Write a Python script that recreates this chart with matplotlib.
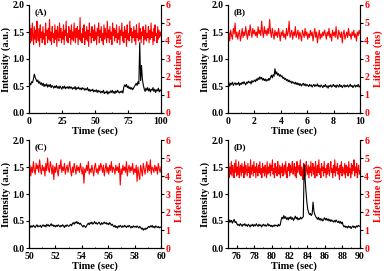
import numpy as np
import matplotlib
matplotlib.use("Agg")
import matplotlib.pyplot as plt
from matplotlib.ticker import AutoMinorLocator

plt.rcParams['font.family'] = 'Liberation Serif'
plt.rcParams['font.weight'] = 'bold'

# ---- panel A : 0-100 s ----
int_a = [0.50, 0.55, 0.52, 0.58, 0.56, 0.63, 0.72, 0.66, 0.62, 0.58, 0.61, 0.55, 0.58, 0.53, 0.56,
         0.51, 0.55, 0.49, 0.53, 0.50, 0.54, 0.48, 0.52, 0.49, 0.53, 0.47, 0.51, 0.49, 0.46, 0.50,
         0.47, 0.51, 0.46, 0.49, 0.45, 0.50, 0.47, 0.44, 0.49, 0.46, 0.50, 0.45, 0.48, 0.46, 0.49,
         0.45, 0.49, 0.46, 0.48, 0.44, 0.47, 0.45, 0.49, 0.43, 0.47, 0.45, 0.48, 0.44, 0.46, 0.43,
         0.47, 0.44, 0.46, 0.42, 0.45, 0.43, 0.47, 0.41, 0.44, 0.40, 0.43, 0.41, 0.44, 0.39, 0.42,
         0.40, 0.43, 0.38, 0.42, 0.39, 0.41, 0.37, 0.40, 0.38, 0.42, 0.36, 0.39, 0.37, 0.41, 0.35,
         0.39, 0.37, 0.41, 0.38, 0.42, 0.37, 0.40, 0.36, 0.41, 0.38, 0.42, 0.39, 0.37, 0.40, 0.38,
         0.41, 0.37, 0.48, 0.52, 0.49, 0.53, 0.47, 0.50, 0.45, 0.48, 0.44, 0.47, 0.43, 0.46, 0.49,
         0.52, 0.55, 0.51, 0.58, 0.54, 1.30, 0.60, 0.88, 0.62, 0.52, 0.45, 0.40, 0.46, 0.42, 0.47,
         0.41, 0.45, 0.39, 0.44, 0.42, 0.47, 0.40, 0.44, 0.38, 0.43, 0.41, 0.46, 0.39, 0.43, 0.41]
life_a = [4.3, 4.9, 3.9, 4.7, 4.0, 5.0, 4.2, 3.8, 4.8, 4.1, 4.6, 3.9, 5.1, 4.3, 4.0, 4.7, 3.7, 4.9, 4.2, 4.5,
          3.9, 4.8, 4.1, 4.4, 3.8, 5.0, 4.3, 4.6, 3.9, 4.7, 4.1, 5.2, 4.0, 4.5, 3.8, 4.8, 4.2, 4.4, 3.9, 4.9,
          4.1, 4.6, 3.7, 4.8, 4.3, 4.0, 5.0, 4.2, 4.7, 3.9, 4.5, 4.1, 4.9, 3.8, 4.6, 4.3, 5.1, 4.0, 4.4, 3.9,
          4.8, 4.2, 4.6, 3.8, 4.9, 4.1, 4.5, 4.0, 5.0, 4.3, 3.9, 4.7, 4.2, 4.8, 3.8, 4.6, 4.1, 5.3, 4.0, 4.4,
          3.9, 4.7, 4.2, 4.9, 3.8, 4.5, 4.1, 4.8, 4.0, 4.6, 3.7, 5.0, 4.3, 4.4, 3.9, 4.8, 4.2, 4.6, 4.0, 4.9,
          4.1, 4.5, 3.8, 4.7, 4.3, 5.0, 3.9, 4.6, 4.2, 4.8, 4.0, 4.4, 3.8, 4.9, 4.1, 4.7, 4.3, 3.9, 5.1, 4.2,
          4.6, 3.9, 4.8, 4.1, 4.5, 3.8, 5.0, 4.3, 4.7, 4.0, 4.6, 4.2, 4.9, 3.9, 4.4, 4.1, 4.8, 3.8, 4.6, 4.3,
          5.0, 4.0, 4.5, 3.9, 4.8, 4.2, 4.6, 3.7, 4.9, 4.1, 4.4, 4.0, 5.1, 4.3, 4.7, 3.9, 4.5, 4.2, 4.8, 4.0,
          4.6, 3.8, 4.9, 4.2, 4.4, 4.0, 5.0, 4.1, 4.7, 3.9, 4.5, 4.3, 4.8, 3.8, 4.6, 4.1, 4.9, 4.0, 4.4, 4.2,
          4.8, 3.9, 4.6, 4.1, 5.0, 4.2, 4.5, 3.8, 4.7, 4.0, 4.9, 4.3, 4.4, 3.9, 4.8, 4.1, 4.6, 4.2, 4.5, 4.3]

# ---- panel B : 0-10 s ----
int_b = [0.52, 0.56, 0.50, 0.55, 0.53, 0.57, 0.51, 0.54, 0.56, 0.52, 0.55, 0.53, 0.57, 0.51, 0.55,
         0.53, 0.57, 0.54, 0.58, 0.55, 0.52, 0.57, 0.55, 0.59, 0.56, 0.58, 0.54, 0.60, 0.57, 0.59,
         0.61, 0.58, 0.63, 0.60, 0.65, 0.62, 0.67, 0.63, 0.66, 0.61, 0.64, 0.60, 0.63, 0.59, 0.62,
         0.60, 0.64, 0.61, 0.66, 0.70, 0.65, 0.71, 0.68, 0.82, 0.72, 0.76, 0.70, 0.73, 0.68, 0.71,
         0.67, 0.69, 0.64, 0.66, 0.62, 0.64, 0.60, 0.62, 0.58, 0.61, 0.57, 0.59, 0.55, 0.58, 0.56,
         0.54, 0.57, 0.53, 0.56, 0.52, 0.55, 0.51, 0.54, 0.50, 0.53, 0.55, 0.51, 0.54, 0.50, 0.53,
         0.51, 0.49, 0.53, 0.50, 0.52, 0.48, 0.51, 0.53, 0.49, 0.52, 0.50, 0.54, 0.49, 0.51, 0.48,
         0.52, 0.50, 0.47, 0.51, 0.49, 0.53, 0.48, 0.50, 0.46, 0.51, 0.49, 0.52, 0.48, 0.50, 0.53,
         0.49, 0.51, 0.47, 0.52, 0.50, 0.48, 0.53, 0.49, 0.51, 0.47, 0.50, 0.52, 0.48, 0.51, 0.49,
         0.52, 0.48, 0.50, 0.53, 0.49, 0.51, 0.47, 0.50, 0.52, 0.48, 0.51, 0.49, 0.53, 0.48, 0.50]
life_b = [4.2, 4.5, 4.0, 4.6, 4.3, 4.1, 4.7, 4.4, 5.0, 4.2, 4.5, 4.1, 4.4, 4.6, 4.0, 4.3, 4.7, 4.2, 4.5, 4.3,
          4.8, 4.4, 4.1, 4.6, 4.3, 4.9, 4.5, 4.2, 4.7, 4.4, 4.6, 4.3, 4.5, 4.2, 4.8, 4.4, 4.6, 4.3, 5.1, 4.5,
          4.2, 4.8, 4.4, 4.6, 4.3, 4.7, 4.4, 5.2, 4.5, 4.2, 4.7, 4.4, 4.1, 4.6, 4.3, 4.5, 4.2, 4.7, 4.4, 4.0,
          4.5, 4.3, 4.6, 4.2, 4.4, 4.1, 4.7, 4.3, 4.5, 5.1, 4.2, 4.4, 4.6, 4.1, 4.5, 4.3, 4.8, 4.2, 4.4, 4.6,
          4.1, 4.5, 4.3, 4.0, 4.6, 4.4, 4.2, 4.7, 4.3, 4.5, 4.1, 4.4, 4.2, 4.6, 4.3, 4.5, 4.0, 4.4, 4.7, 4.2,
          4.5, 3.9, 4.3, 4.6, 4.1, 4.4, 4.2, 4.5, 4.3, 4.6, 4.4, 4.1, 4.5, 4.3, 4.7, 4.2, 4.4, 4.0, 4.6, 4.3,
          4.5, 4.2, 4.8, 4.3, 4.1, 4.6, 4.4, 4.2, 4.5, 3.9, 4.4, 4.6, 4.1, 4.3, 4.5, 4.2, 4.7, 4.3, 4.4, 4.1,
          4.5, 4.3, 4.6, 4.2, 4.4, 4.0, 4.5, 4.3, 4.6, 4.4]

# ---- panel C : 50-60 s ----
int_c = [0.40, 0.42, 0.38, 0.41, 0.39, 0.42, 0.40, 0.38, 0.41, 0.43, 0.39, 0.41, 0.40, 0.42, 0.38,
         0.41, 0.43, 0.40, 0.42, 0.39, 0.44, 0.41, 0.43, 0.40, 0.42, 0.45, 0.41, 0.43, 0.40, 0.42,
         0.39, 0.42, 0.40, 0.43, 0.41, 0.39, 0.42, 0.40, 0.43, 0.41, 0.38, 0.42, 0.40, 0.43, 0.41,
         0.40, 0.42, 0.44, 0.41, 0.45, 0.47, 0.44, 0.48, 0.46, 0.49, 0.45, 0.47, 0.44, 0.46, 0.43,
         0.41, 0.39, 0.42, 0.40, 0.38, 0.41, 0.44, 0.46, 0.43, 0.47, 0.45, 0.48, 0.44, 0.46, 0.49,
         0.45, 0.47, 0.44, 0.46, 0.48, 0.45, 0.43, 0.47, 0.44, 0.46, 0.48, 0.45, 0.47, 0.44, 0.46,
         0.43, 0.47, 0.45, 0.42, 0.44, 0.41, 0.39, 0.42, 0.38, 0.40, 0.37, 0.41, 0.39, 0.42, 0.40,
         0.38, 0.41, 0.39, 0.42, 0.40, 0.38, 0.41, 0.39, 0.42, 0.40, 0.37, 0.40, 0.38, 0.41, 0.39,
         0.40, 0.38, 0.41, 0.39, 0.37, 0.40, 0.38, 0.35, 0.37, 0.33, 0.36, 0.34, 0.37, 0.35, 0.38,
         0.40, 0.38, 0.41, 0.39, 0.42, 0.38, 0.40, 0.37, 0.41, 0.39, 0.38, 0.40, 0.37, 0.39, 0.38]
life_c = [4.3, 4.6, 4.0, 4.5, 4.2, 4.8, 4.3, 4.1, 4.7, 4.4, 4.6, 4.2, 4.9, 4.4, 4.1, 4.6, 4.3, 4.5, 4.0, 4.7,
          4.3, 5.0, 4.4, 4.2, 4.8, 4.5, 4.1, 4.6, 3.8, 4.5, 4.2, 4.7, 4.3, 4.0, 4.6, 4.4, 4.9, 4.2, 4.5, 4.3,
          4.7, 4.1, 4.4, 4.6, 4.2, 4.5, 4.8, 4.3, 4.0, 4.5, 4.2, 4.7, 4.4, 4.1, 4.6, 4.3, 4.5, 4.2, 4.7, 4.4,
          4.1, 4.5, 3.6, 4.4, 4.2, 4.6, 4.3, 4.8, 4.1, 4.4, 4.2, 4.6, 4.3, 4.0, 4.5, 4.7, 4.2, 4.4, 4.1, 4.6,
          4.3, 4.7, 4.5, 4.2, 4.6, 4.0, 4.4, 4.7, 4.2, 4.5, 4.1, 4.6, 4.3, 4.8, 4.2, 4.5, 4.4, 4.1, 4.6, 4.3,
          4.5, 4.2, 4.7, 3.5, 4.4, 4.1, 4.6, 4.3, 4.5, 4.2, 4.8, 4.0, 4.4, 4.6, 4.2, 4.5, 4.3, 4.7, 4.1, 4.4,
          4.2, 4.6, 3.7, 4.5, 4.1, 3.8, 4.6, 4.3, 4.0, 4.7, 4.4, 4.1, 4.5, 4.8, 4.2, 4.6, 4.3, 4.9, 4.1, 4.5,
          4.4, 4.2, 4.6, 4.3, 4.5, 4.1, 4.7, 4.4, 4.2, 4.5]

# ---- panel D : 75-90 s ----
int_d = [0.50, 0.47, 0.52, 0.48, 0.51, 0.46, 0.50, 0.53, 0.47, 0.49,
         0.45, 0.42, 0.44, 0.41, 0.45, 0.43, 0.40, 0.44, 0.42, 0.45,
         0.41, 0.43, 0.40, 0.44, 0.42, 0.39, 0.43, 0.41, 0.44, 0.40,
         0.43, 0.41, 0.45, 0.42, 0.40, 0.44, 0.41, 0.43, 0.39, 0.42,
         0.44, 0.41, 0.43, 0.40, 0.42, 0.45, 0.41, 0.43, 0.40, 0.42,
         0.39, 0.42, 0.40, 0.43, 0.41, 0.42, 0.40, 0.44, 0.41, 0.43,
         0.52, 0.57, 0.54, 0.60, 0.55, 0.58, 0.53, 0.56, 0.52, 0.57,
         0.54, 0.58, 0.53, 0.56, 0.51, 0.55, 0.59, 0.54, 0.57, 0.52,
         0.55, 0.53, 0.57, 0.54, 0.56, 0.58, 1.55, 1.30, 1.05, 0.85,
         0.72, 0.66, 0.62, 0.64, 0.60, 0.63, 0.85, 0.68, 0.62, 0.58,
         0.56, 0.53, 0.57, 0.52, 0.55, 0.51, 0.54, 0.50, 0.53, 0.56,
         0.52, 0.55, 0.51, 0.54, 0.50, 0.53, 0.49, 0.52, 0.50, 0.48,
         0.51, 0.48, 0.52, 0.49, 0.47, 0.50, 0.46, 0.49, 0.45, 0.48,
         0.42, 0.39, 0.41, 0.38, 0.40, 0.37, 0.41, 0.38, 0.40, 0.36,
         0.39, 0.41, 0.38, 0.40, 0.37, 0.41, 0.39, 0.42, 0.40, 0.41]
life_d = [4.2, 4.7, 3.9, 4.5, 4.1, 4.8, 4.0, 4.6, 4.3, 3.9, 4.7, 4.2, 4.9, 4.0, 4.5, 4.1, 4.8, 3.9, 4.4, 4.6,
          4.0, 4.7, 4.2, 4.5, 3.9, 4.8, 4.1, 4.6, 4.3, 4.0, 4.7, 4.2, 4.5, 3.9, 4.9, 4.1, 4.4, 4.6, 4.0, 4.8,
          4.2, 4.5, 3.9, 4.7, 4.3, 4.0, 4.6, 4.2, 4.8, 4.1, 4.4, 3.9, 4.7, 4.2, 4.5, 4.0, 4.6, 4.3, 3.9, 4.8,
          4.1, 4.5, 4.2, 4.7, 4.0, 4.6, 4.3, 4.9, 4.1, 4.4, 3.9, 4.7, 4.2, 4.5, 4.0, 4.8, 4.3, 4.1, 4.6, 3.9,
          4.5, 4.2, 4.7, 4.0, 4.4, 4.6, 4.1, 4.8, 4.2, 3.9, 4.5, 4.3, 4.7, 4.0, 4.6, 4.2, 4.4, 4.8, 4.1, 4.3,
          4.7, 4.0, 4.5, 3.9, 4.8, 4.2, 4.4, 4.6, 4.1, 4.9, 4.0, 4.5, 4.3, 3.8, 4.7, 4.2, 4.6, 4.0, 4.8, 4.3,
          4.1, 4.6, 3.9, 4.5, 4.2, 4.8, 4.0, 4.4, 4.7, 4.1, 4.5, 3.9, 4.8, 4.3, 4.0, 4.6, 4.2, 4.9, 4.1, 4.4,
          3.9, 4.7, 4.3, 4.5, 4.0, 4.8, 4.2, 4.4, 3.9, 4.6, 4.1, 4.7, 4.3, 4.0, 4.5, 4.8, 4.2, 4.4, 3.9, 4.6,
          4.2, 4.9, 4.0, 4.5, 4.3, 4.7, 4.1, 4.4, 3.8, 4.6, 4.2, 4.8, 4.0, 4.5, 4.3, 4.1, 4.7, 3.9, 4.6, 4.2,
          4.5, 4.0, 4.8, 4.2, 4.4, 3.9, 4.7, 4.1, 4.6, 4.3, 4.9, 4.0, 4.5, 4.2, 4.7, 3.9, 4.4, 4.6, 4.1, 4.3]

panels = [
    ("(A)", 0, 100, [0, 25, 50, 75, 100], int_a, life_a),
    ("(B)", 0, 10, [0, 2, 4, 6, 8, 10], int_b, life_b),
    ("(C)", 50, 60, [50, 52, 54, 56, 58, 60], int_c, life_c),
    ("(D)", 75, 90, [76, 78, 80, 82, 84, 86, 88, 90], int_d, life_d),
]

W, H = 389, 271
fig = plt.figure(figsize=(W / 100, H / 100), dpi=100)
boxes = [(29, 5, 161, 113), (228, 5, 360, 113), (29, 140, 161, 248), (228, 140, 360, 248)]

for (lab, t0, t1, xt, inten, life), (l, t, r, b) in zip(panels, boxes):
    ax = fig.add_axes([l / W, 1 - b / H, (r - l) / W, (b - t) / H])
    ax2 = ax.twinx()
    tl = np.linspace(t0, t1, len(life))
    ti = np.linspace(t0, t1, len(inten))
    ax2.plot(tl, life, color='#ff0000', lw=0.8)
    ax.plot(ti, inten, color='black', lw=0.8)
    ax.set_zorder(ax2.get_zorder() + 1)
    ax.patch.set_visible(False)

    ax.set_xlim(t0, t1)
    ax.set_ylim(0, 2.0)
    ax2.set_ylim(0, 6)
    ax.set_xticks(xt)
    ax.set_yticks([0, 0.5, 1.0, 1.5, 2.0])
    ax.set_yticklabels(['0.0', '0.5', '1.0', '1.5', '2.0'])
    ax2.set_yticks(range(7))
    ax.xaxis.set_minor_locator(AutoMinorLocator(2))
    ax.tick_params(axis='x', which='both', direction='in', labelsize=7, pad=3, length=2)
    ax.tick_params(axis='x', which='minor', length=1)
    ax.tick_params(axis='y', direction='out', labelsize=7, pad=1, length=2)
    ax2.tick_params(axis='y', direction='out', labelsize=7, pad=1, length=2, labelcolor='#ff0000')
    for a in (ax, ax2):
        a.spines['top'].set_visible(False)
        for s in a.spines.values():
            s.set_linewidth(0.8)
    ax2.spines['right'].set_color('#555555')
    ax.set_xlabel('Time (sec)', fontsize=7.5, fontweight='bold', labelpad=0)
    ax.set_ylabel('Intensity (a.u.)', fontsize=7.5, fontweight='bold', labelpad=1)
    ax2.set_ylabel('Lifetime (ns)', fontsize=7.5, fontweight='bold', color='#ff0000', labelpad=3)
    ax.text(0.04, 0.97, lab, transform=ax.transAxes, fontsize=6.5, fontweight='bold', va='top')

fig.savefig('out.png', dpi=100)
